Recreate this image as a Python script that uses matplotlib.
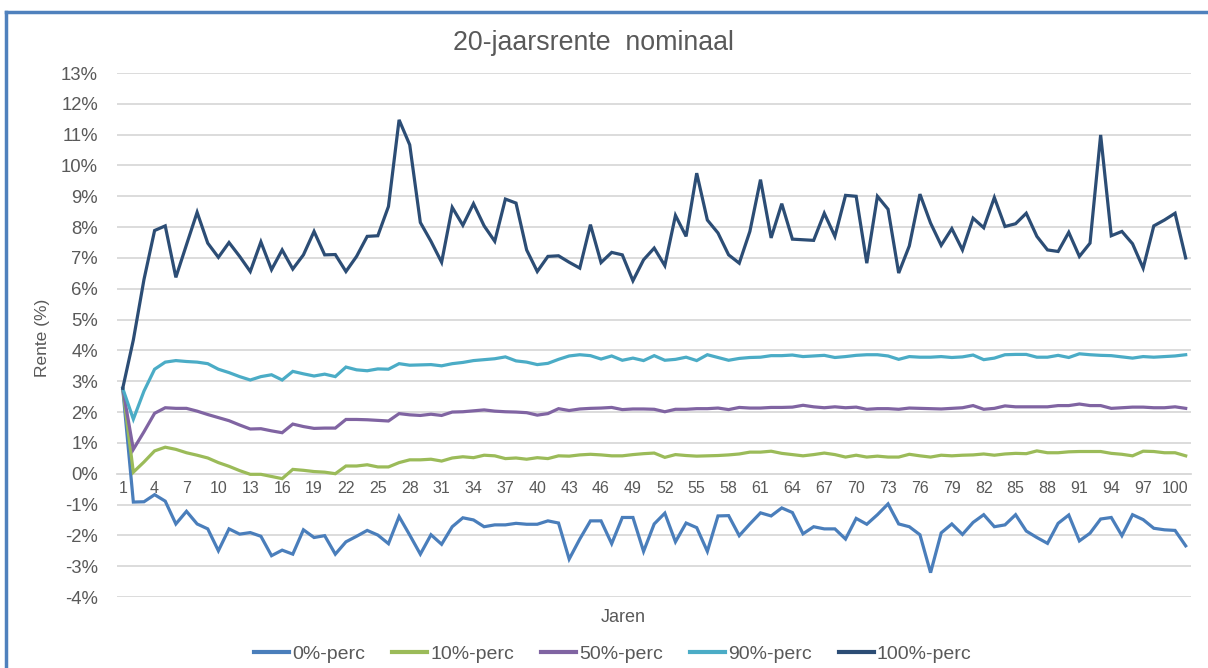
import numpy as np
import matplotlib
matplotlib.use("Agg")
import matplotlib.pyplot as plt
from matplotlib.lines import Line2D

plt.rcParams['font.family'] = ['Liberation Sans', 'DejaVu Sans']

# Jaren 1..101
years = np.arange(1, 102)
tick_years = np.arange(1, 101, 3)

# Percentielen 20-jaarsrente nominaal (in %)
perc_0 = [
    2.77, -0.92, -0.91, -0.68, -0.89, -1.63, -1.22, -1.63, -1.79, -2.50,
    -1.79, -1.96, -1.91, -2.03, -2.66, -2.48, -2.61, -1.82, -2.07, -2.01,
    -2.61, -2.21, -2.03, -1.84, -1.99, -2.27, -1.39, -1.99, -2.61, -1.98,
    -2.29, -1.72, -1.43, -1.50, -1.72, -1.66, -1.66, -1.61, -1.64, -1.64,
    -1.53, -1.60, -2.77, -2.12, -1.53, -1.53, -2.27, -1.42, -1.42, -2.52,
    -1.63, -1.28, -2.21, -1.60, -1.75, -2.52, -1.37, -1.36, -2.01, -1.63,
    -1.27, -1.37, -1.11, -1.26, -1.95, -1.72, -1.79, -1.79, -2.12, -1.45,
    -1.64, -1.33, -0.98, -1.63, -1.72, -1.98, -3.21, -1.92, -1.63, -1.97,
    -1.58, -1.33, -1.72, -1.66, -1.33, -1.86, -2.07, -2.26, -1.61, -1.34,
    -2.18, -1.93, -1.47, -1.42, -2.01, -1.33, -1.49, -1.77, -1.82, -1.84,
    -2.34,
]
perc_10 = [
    2.77, 0.05, 0.38, 0.74, 0.86, 0.79, 0.68, 0.60, 0.51, 0.36,
    0.24, 0.10, -0.02, -0.02, -0.09, -0.16, 0.14, 0.11, 0.07, 0.05,
    0.00, 0.25, 0.25, 0.29, 0.22, 0.22, 0.36, 0.45, 0.45, 0.47,
    0.41, 0.51, 0.55, 0.52, 0.60, 0.58, 0.49, 0.51, 0.47, 0.52,
    0.49, 0.58, 0.57, 0.61, 0.63, 0.61, 0.58, 0.58, 0.62, 0.65,
    0.67, 0.53, 0.62, 0.59, 0.57, 0.58, 0.59, 0.61, 0.64, 0.70,
    0.70, 0.73, 0.66, 0.62, 0.58, 0.62, 0.67, 0.62, 0.54, 0.60,
    0.54, 0.57, 0.54, 0.54, 0.63, 0.58, 0.54, 0.60, 0.58, 0.60,
    0.61, 0.64, 0.60, 0.64, 0.66, 0.65, 0.74, 0.68, 0.68, 0.71,
    0.72, 0.72, 0.72, 0.66, 0.63, 0.58, 0.73, 0.72, 0.68, 0.68,
    0.58,
]
perc_50 = [
    2.77, 0.79, 1.36, 1.96, 2.14, 2.12, 2.12, 2.03, 1.92, 1.82,
    1.72, 1.58, 1.45, 1.46, 1.39, 1.33, 1.61, 1.53, 1.47, 1.48,
    1.48, 1.76, 1.76, 1.75, 1.73, 1.71, 1.95, 1.91, 1.89, 1.93,
    1.89, 2.00, 2.01, 2.04, 2.07, 2.03, 2.01, 2.00, 1.98, 1.90,
    1.95, 2.11, 2.05, 2.10, 2.12, 2.13, 2.15, 2.08, 2.10, 2.10,
    2.09, 2.01, 2.09, 2.09, 2.11, 2.11, 2.13, 2.08, 2.15, 2.13,
    2.13, 2.15, 2.15, 2.16, 2.22, 2.17, 2.14, 2.17, 2.14, 2.16,
    2.09, 2.11, 2.11, 2.09, 2.13, 2.12, 2.11, 2.10, 2.12, 2.14,
    2.21, 2.09, 2.12, 2.20, 2.17, 2.17, 2.17, 2.17, 2.21, 2.21,
    2.26, 2.21, 2.21, 2.12, 2.14, 2.16, 2.16, 2.14, 2.14, 2.17,
    2.12,
]
perc_90 = [
    2.77, 1.77, 2.68, 3.39, 3.62, 3.67, 3.64, 3.62, 3.57, 3.39,
    3.28, 3.15, 3.04, 3.15, 3.21, 3.04, 3.32, 3.24, 3.17, 3.23,
    3.15, 3.46, 3.37, 3.34, 3.40, 3.39, 3.57, 3.52, 3.53, 3.54,
    3.50, 3.57, 3.61, 3.67, 3.70, 3.73, 3.79, 3.66, 3.62, 3.54,
    3.58, 3.71, 3.82, 3.86, 3.83, 3.72, 3.82, 3.68, 3.75, 3.67,
    3.83, 3.68, 3.71, 3.78, 3.67, 3.86, 3.77, 3.68, 3.74, 3.77,
    3.78, 3.83, 3.83, 3.85, 3.80, 3.82, 3.84, 3.77, 3.80, 3.84,
    3.86, 3.86, 3.82, 3.71, 3.80, 3.78, 3.78, 3.80, 3.77, 3.79,
    3.85, 3.70, 3.75, 3.86, 3.87, 3.87, 3.78, 3.78, 3.84, 3.77,
    3.89, 3.86, 3.84, 3.83, 3.79, 3.75, 3.80, 3.78, 3.80, 3.82,
    3.86,
]
perc_100 = [
    2.77, 4.34, 6.30, 7.89, 8.04, 6.37, 7.43, 8.48, 7.48, 7.02,
    7.50, 7.05, 6.56, 7.52, 6.62, 7.26, 6.64, 7.10, 7.86, 7.10,
    7.11, 6.56, 7.05, 7.70, 7.72, 8.67, 11.48, 10.67, 8.15, 7.54,
    6.86, 8.64, 8.06, 8.76, 8.04, 7.54, 8.91, 8.78, 7.26, 6.56,
    7.05, 7.07, 6.86, 6.67, 8.08, 6.85, 7.18, 7.10, 6.26, 6.94,
    7.32, 6.75, 8.38, 7.70, 9.75, 8.23, 7.81, 7.10, 6.83, 7.86,
    9.54, 7.65, 8.76, 7.61, 7.59, 7.57, 8.45, 7.70, 9.03, 9.00,
    6.83, 9.00, 8.58, 6.51, 7.39, 9.07, 8.13, 7.41, 7.95, 7.26,
    8.29, 7.98, 8.96, 8.02, 8.11, 8.45, 7.70, 7.26, 7.21, 7.83,
    7.05, 7.48, 10.99, 7.72, 7.86, 7.46, 6.67, 8.04, 8.23, 8.45,
    7.00,
]

series_names = ['0%-perc', '10%-perc', '50%-perc', '90%-perc', '100%-perc']
series_values = [perc_0, perc_10, perc_50, perc_90, perc_100]
series_colors = ['#4A7EBB', '#9BBB59', '#8064A2', '#4BACC6', '#2C4D75']

text_color = '#595959'
grid_color = '#D9D9D9'

W, H = 1208, 668
fig = plt.figure(figsize=(W / 100, H / 100), dpi=100)
ax = fig.add_axes([117.4 / W, 71 / H, 1073.6 / W, 524 / H])

for name, vals, col in zip(series_names, series_values, series_colors):
    ax.plot(years, vals, color=col, lw=2.3, label=name, solid_joinstyle='miter')

ax.set_xlim(0.5, 101.5)
ax.set_ylim(-4, 13)
ax.set_yticks(np.arange(-4, 14, 1))
ax.set_yticklabels([f'{v}%' for v in range(-4, 14)])
ax.set_xticks(tick_years)
ax.set_xticklabels([str(v) for v in tick_years])

ax.grid(axis='y', color=grid_color, lw=1.3)
ax.set_axisbelow(True)
for s in ['top', 'right', 'left']:
    ax.spines[s].set_visible(False)
ax.spines['bottom'].set_position(('data', 0))
ax.spines['bottom'].set_color(grid_color)
ax.spines['bottom'].set_linewidth(1.3)
ax.spines['bottom'].set_zorder(0)

ax.tick_params(axis='y', length=0, pad=14, labelsize=13.3, labelcolor=text_color)
ax.tick_params(axis='x', length=0, pad=5, labelsize=11.5, labelcolor=text_color)

fig.text(593 / W, 1 - 43 / H, '20-jaarsrente  nominaal', ha='center', va='center',
         fontsize=19.3, color=text_color)
fig.text(42 / W, 1 - 338 / H, 'Rente (%)', ha='center', va='center', rotation=90,
         fontsize=12.5, color=text_color)
fig.text(623 / W, 1 - 618 / H, 'Jaren', ha='center', va='center',
         fontsize=13, color=text_color)

handles = [Line2D([0], [0], color=c, lw=3) for c in series_colors]
leg = fig.legend(handles, series_names, loc='center', ncol=5,
                 bbox_to_anchor=(613 / W, 1 - 654 / H), frameon=False,
                 fontsize=14, handlelength=1.8, handletextpad=0.15,
                 columnspacing=1.4, borderaxespad=0, borderpad=0)
for t in leg.get_texts():
    t.set_color(text_color)

# blauwe rand van het kader
frame_col = '#4F81BD'
fig.add_artist(Line2D([6 / W, 6 / W], [0, 1 - 12 / H], transform=fig.transFigure,
                      color=frame_col, lw=2.5))
fig.add_artist(Line2D([6 / W, 1], [1 - 12 / H, 1 - 12 / H], transform=fig.transFigure,
                      color=frame_col, lw=2.5))

fig.savefig('out.png', dpi=100)
